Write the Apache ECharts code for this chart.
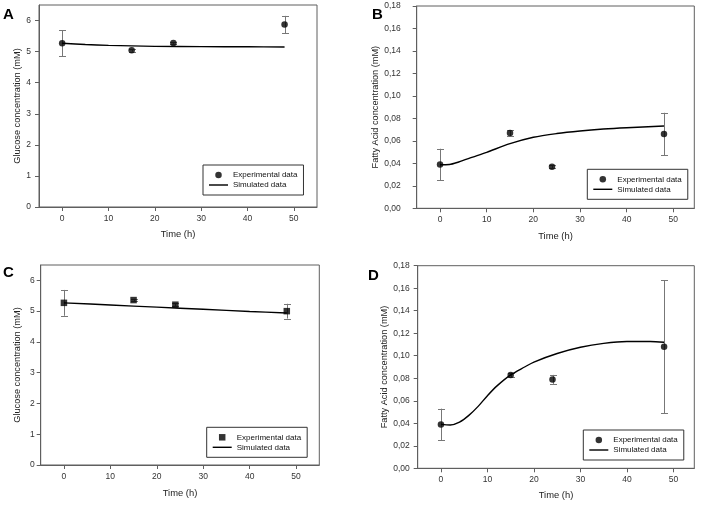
<!DOCTYPE html>
<html><head><meta charset="utf-8">
<script src="https://cdn.jsdelivr.net/npm/echarts@6/dist/echarts.min.js"></script>
<style>html,body{margin:0;padding:0;background:#fff}#c{width:701px;height:505px}</style>
</head><body><div id="c"></div>
<script>
// ---- data ----
const timeExp = [0, 15, 24, 48];
const xTicks = [0, 10, 20, 30, 40, 50];
const glucTicks = [0, 1, 2, 3, 4, 5, 6];
const faTicks = [0, 0.02, 0.04, 0.06, 0.08, 0.10, 0.12, 0.14, 0.16, 0.18];

// Panel A: glucose, circles
const glucA = [5.27, 5.04, 5.28, 5.87];
const glucAErr = [0.42, 0.04, 0.03, 0.28];
const simTimeA = [0, 5, 10, 15, 20, 30, 40, 48];
const simGlucA = [5.27, 5.23, 5.20, 5.185, 5.17, 5.16, 5.155, 5.15];

// Panel B: fatty acid, circles
const faB = [0.039, 0.067, 0.037, 0.066];
const faBErr = [0.014, 0.0027, 0.0015, 0.019];
const simTimeB = [0, 2, 4, 7, 10, 15, 20, 25, 30, 35, 40, 48];
const simFaB = [0.0388, 0.039, 0.0412, 0.0455, 0.0498, 0.0575, 0.0632, 0.0665, 0.0688, 0.0705, 0.0717, 0.0732];

// Panel C: glucose, squares
const glucC = [5.27, 5.36, 5.21, 5.00];
const glucCErr = [0.42, 0.04, 0.05, 0.24];
const simTimeC = [0, 10, 20, 30, 40, 48];
const simGlucC = [5.27, 5.20, 5.13, 5.06, 4.99, 4.94];

// Panel D: fatty acid, circles
const faD = [0.039, 0.083, 0.079, 0.108];
const faDErr = [0.014, 0.002, 0.004, 0.059];
const simTimeD = [0, 2, 4, 6, 8, 10, 12, 15, 18, 20, 25, 30, 35, 40, 45, 48];
const simFaD = [0.039, 0.0385, 0.041, 0.047, 0.055, 0.0645, 0.073, 0.083, 0.090, 0.0944, 0.102, 0.1075, 0.111, 0.1127, 0.1127, 0.112];

const panelLetters = ['A', 'B', 'C', 'D'];
const glucName = 'Glucose concentration (mM)';
const faName = 'Fatty Acid concentration (mM)';
const timeName = 'Time (h)';
const expName = 'Experimental data';
const simName = 'Simulated data';

// ---- chart ----
const FONT = '"Liberation Sans", Arial, sans-serif';
const AX = '#5f5f5f';
const chart = echarts.init(document.getElementById('c'), null, {renderer: 'canvas'});

const grids = [
  {left: 39, top: 5, width: 278, height: 202},
  {left: 416.7, top: 6, width: 277.6, height: 202.3},
  {left: 40.7, top: 265, width: 278.6, height: 200},
  {left: 417.7, top: 265.7, width: 276.6, height: 202.6}
].map(g => Object.assign({show: true, borderColor: AX, borderWidth: 1, backgroundColor: 'transparent'}, g));

const xMax = [55, 54.5, 55, 54.5];
const xNameGap = [23, 24, 24, 23];
const xAxes = grids.map((g, i) => ({
  type: 'value', gridIndex: i, min: -5, max: xMax[i],
  name: timeName, nameLocation: 'middle', nameGap: xNameGap[i],
  nameTextStyle: {fontSize: 9.4, color: '#222', fontFamily: FONT},
  axisLine: {show: true, onZero: false, lineStyle: {color: AX, width: 1}},
  axisTick: {show: true, inside: false, length: 4, customValues: xTicks, lineStyle: {color: AX}},
  axisLabel: {customValues: xTicks, margin: 7, fontSize: 8.5, color: '#333', fontFamily: FONT},
  splitLine: {show: false}
}));

const fmtFA = v => v.toFixed(2).replace('.', ',');
const yNameGap = [17, 29.5, 18.5, 29];
const yLabelMargin = [8, 16, 6, 8];
const yAxes = grids.map((g, i) => {
  const isFA = i % 2 === 1;
  return {
    type: 'value', gridIndex: i, min: 0, max: isFA ? 0.18 : 6.5,
    name: isFA ? faName : glucName, nameLocation: 'middle', nameGap: yNameGap[i],
    nameTextStyle: {fontSize: 9.2, color: '#222', fontFamily: FONT},
    axisLine: {show: true, onZero: false, lineStyle: {color: AX, width: 1}},
    axisTick: {show: true, inside: false, length: 4, customValues: isFA ? faTicks : glucTicks, lineStyle: {color: AX}},
    axisLabel: {customValues: isFA ? faTicks : glucTicks, margin: yLabelMargin[i], fontSize: 8.5, color: '#333', fontFamily: FONT,
      formatter: isFA ? fmtFA : (v => String(v))},
    splitLine: {show: false}
  };
});

function errRender(params, api) {
  const x = api.value(0);
  const lo = api.coord([x, api.value(1)]);
  const hi = api.coord([x, api.value(2)]);
  const cx = Math.round(lo[0]) + 0.5;
  const c = 3.5;
  const st = {stroke: '#777', lineWidth: 1};
  return {type: 'group', children: [
    {type: 'line', shape: {x1: cx, y1: lo[1], x2: cx, y2: hi[1]}, style: st},
    {type: 'line', shape: {x1: cx - c, y1: Math.round(lo[1]) + 0.5, x2: cx + c, y2: Math.round(lo[1]) + 0.5}, style: st},
    {type: 'line', shape: {x1: cx - c, y1: Math.round(hi[1]) + 0.5, x2: cx + c, y2: Math.round(hi[1]) + 0.5}, style: st}
  ]};
}

function panelSeries(i, vals, errs, simT, simV, symbol) {
  return [
    {type: 'custom', xAxisIndex: i, yAxisIndex: i, silent: true, z: 2,
      renderItem: errRender, encode: {x: 0, y: [1, 2]},
      data: timeExp.map((t, k) => [t, vals[k] - errs[k], vals[k] + errs[k]])},
    {type: 'line', name: simName, xAxisIndex: i, yAxisIndex: i, z: 3, silent: true, color: '#000',
      symbol: 'none', smooth: 0.3, lineStyle: {color: '#000', width: 1.4}, itemStyle: {color: '#000'},
      data: simT.map((t, k) => [t, simV[k]])},
    {type: 'scatter', name: expName, xAxisIndex: i, yAxisIndex: i, z: 4, silent: true,
      symbol: symbol, symbolSize: 6.5, itemStyle: {color: '#000'},
      data: timeExp.map((t, k) => [t, vals[k]])}
  ];
}

const series = [].concat(
  panelSeries(0, glucA, glucAErr, simTimeA, simGlucA, 'circle'),
  panelSeries(1, faB, faBErr, simTimeB, simFaB, 'circle'),
  panelSeries(2, glucC, glucCErr, simTimeC, simGlucC, 'rect'),
  panelSeries(3, faD, faDErr, simTimeD, simFaD, 'circle')
);

const legendPos = [
  {left: 203, top: 165},
  {left: 587.3, top: 169.3},
  {left: 206.7, top: 427.3},
  {left: 583.3, top: 430}
];
const legends = legendPos.map((p, i) => Object.assign({
  orient: 'vertical', itemWidth: 19, itemHeight: 6.5, itemGap: 0,
  padding: [5, 6, 5, 6], borderColor: '#333', borderWidth: 1, borderRadius: 0,
  backgroundColor: '#fff', selectedMode: false, z: 10,
  textStyle: {fontSize: 8, lineHeight: 10, color: '#111', fontFamily: FONT},
  data: [
    {name: expName, icon: i === 2 ? 'path://M0 0H10V10H0Z' : 'circle', itemStyle: {color: '#000'}},
    {name: simName, icon: 'path://M0 0H20V1.5H0Z', itemStyle: {color: '#000'}}
  ]
}, p));

const letterPos = [{left: 3, top: 7}, {left: 372, top: 7}, {left: 3, top: 265.5}, {left: 368, top: 268}];
const titles = letterPos.map((p, i) => Object.assign({
  text: panelLetters[i], padding: 0,
  textStyle: {fontSize: 15, fontWeight: 'bold', color: '#000', fontFamily: FONT, lineHeight: 15}
}, p));

chart.setOption({
  animation: false,
  backgroundColor: '#fff',
  textStyle: {fontFamily: FONT},
  title: titles,
  legend: legends,
  grid: grids,
  xAxis: xAxes,
  yAxis: yAxes,
  series: series
});
</script></body></html>
